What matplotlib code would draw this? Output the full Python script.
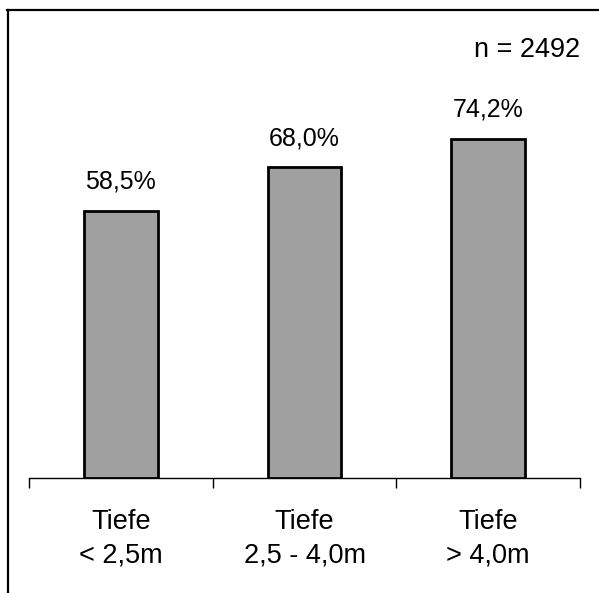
import matplotlib.pyplot as plt
from matplotlib.lines import Line2D

plt.rcParams['font.family'] = ['Liberation Sans', 'DejaVu Sans']

categories = ['Tiefe\n< 2,5m', 'Tiefe\n2,5 - 4,0m', 'Tiefe\n> 4,0m']
values = [58.5, 68.0, 74.2]
value_labels = ['58,5%', '68,0%', '74,2%']
n_label = 'n = 2492'

fig = plt.figure(figsize=(5.99, 5.93), dpi=100)
ax = fig.add_axes([29 / 599, 1 - 478 / 593, 551 / 599, 0.7706])

x = list(range(len(values)))
ax.bar(x, values, width=0.40, color='#a0a0a0', edgecolor='black', linewidth=2.0, zorder=3)

for xi, v, lab in zip(x, values, value_labels):
    ax.annotate(lab, (xi, v), xytext=(0, 21), textcoords='offset points',
                ha='center', va='center', fontsize=18)

ax.set_xlim(-0.5, 2.5)
ax.set_ylim(0, 100)

# only the baseline is shown
for side in ['top', 'right', 'left']:
    ax.spines[side].set_visible(False)
ax.spines['bottom'].set_linewidth(1.0)
ax.set_yticks([])

ax.set_xticks(x)
ax.set_xticklabels(categories, fontsize=19.5, linespacing=1.4)
ax.tick_params(axis='x', which='major', length=0, pad=22)
ax.set_xticks([-0.5, 0.5, 1.5, 2.5], minor=True)
ax.tick_params(axis='x', which='minor', length=7, width=1.0, direction='out')

fig.text(580 / 599, 1 - 50 / 593, n_label, ha='right', va='center', fontsize=19.5)

# open frame: top and left edges
fig.add_artist(Line2D([7 / 599, 1.0], [1 - 10 / 593, 1 - 10 / 593], color='black', linewidth=1.6))
fig.add_artist(Line2D([8 / 599, 8 / 599], [0.0, 1 - 10 / 593], color='black', linewidth=1.6))

fig.savefig('out.png', dpi=100)
